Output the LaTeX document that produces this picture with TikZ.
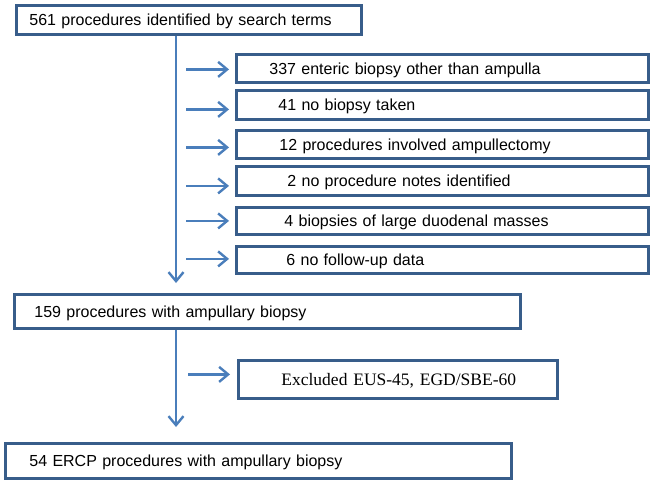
\documentclass[tikz,border=0pt]{standalone}
\usepackage{fontspec}
\setmainfont{Liberation Sans}
\newfontfamily\serifx{Liberation Serif}
\usetikzlibrary{arrows.meta}
\definecolor{boxline}{HTML}{385D8A}
\definecolor{arrline}{HTML}{4A7EBB}
\begin{document}
\begin{tikzpicture}[x=1bp,y=-1bp,
  flowbox/.style={draw=boxline, line width=2.8bp, fill=white, inner xsep=0pt, inner ysep=0pt,
    align=left, anchor=north west, text height=11.5bp, text depth=0pt, font=\fontsize{16bp}{19bp}\selectfont},
  arr/.style={draw=arrline, line width=2.4bp, -{Straight Barb[length=9bp,width=15bp]}}]
\useasboundingbox (0,0) rectangle (650,482);
\fill[white] (0,0) rectangle (650,482);
\coordinate (vx) at (176,0);
\node[flowbox, text width=345bp, minimum height=29bp] (top) at (15,4) {\hspace*{13bp}561 procedures identified by search terms};
\node[flowbox, text width=412bp, minimum height=28bp] (b1) at (235,53) {\hspace*{33bp}337 enteric biopsy other than ampulla};
\node[flowbox, text width=412bp, minimum height=29bp] (b2) at (235,89) {\hspace*{42bp}41 no biopsy taken};
\node[flowbox, text width=412bp, minimum height=28bp] (b3) at (235,129) {\hspace*{43bp}12 procedures involved ampullectomy};
\node[flowbox, text width=412bp, minimum height=29bp] (b4) at (235,165) {\hspace*{51bp}2 no procedure notes identified};
\node[flowbox, text width=412bp, minimum height=27bp] (b5) at (235,206) {\hspace*{48bp}4 biopsies of large duodenal masses};
\node[flowbox, text width=412bp, minimum height=27bp] (b6) at (235,245) {\hspace*{50bp}6 no follow-up data};
\node[flowbox, text width=506bp, minimum height=34bp] (p159) at (13,293) {\hspace*{20bp}159 procedures with ampullary biopsy};
\node[flowbox, text width=319bp, minimum height=38bp, font=\serifx\fontsize{17.5bp}{20bp}\selectfont] (excl) at (237,359) {\hspace*{43bp}Excluded EUS-45, EGD/SBE-60};
\node[flowbox, text width=506bp, minimum height=35bp] (fin) at (4,442) {\hspace*{24bp}54 ERCP procedures with ampullary biopsy};
% vertical arrows
\draw[arr, shorten >=10bp] (top.south -| vx) -- (p159.north -| vx);
\draw[arr, shorten >=15bp] (p159.south -| vx) -- (fin.north -| vx);
% side arrows
\draw[arr] ([xshift=-49bp,yshift=-1bp]b1.west) -- ([xshift=-6bp,yshift=-1bp]b1.west);
\draw[arr] ([xshift=-49bp,yshift=-4.5bp]b2.west) -- ([xshift=-6bp,yshift=-4.5bp]b2.west);
\draw[arr] ([xshift=-49bp,yshift=-3bp]b3.west) -- ([xshift=-6bp,yshift=-3bp]b3.west);
\draw[arr] ([xshift=-49bp,yshift=-5bp]b4.west) -- ([xshift=-6bp,yshift=-5bp]b4.west);
\draw[arr] ([xshift=-49bp,yshift=0bp]b5.west) -- ([xshift=-6bp,yshift=0bp]b5.west);
\draw[arr] ([xshift=-49bp,yshift=1bp]b6.west) -- ([xshift=-6bp,yshift=1bp]b6.west);
\draw[arr] ([xshift=-49bp,yshift=5bp]excl.west) -- ([xshift=-7bp,yshift=5bp]excl.west);
\end{tikzpicture}
\end{document}
